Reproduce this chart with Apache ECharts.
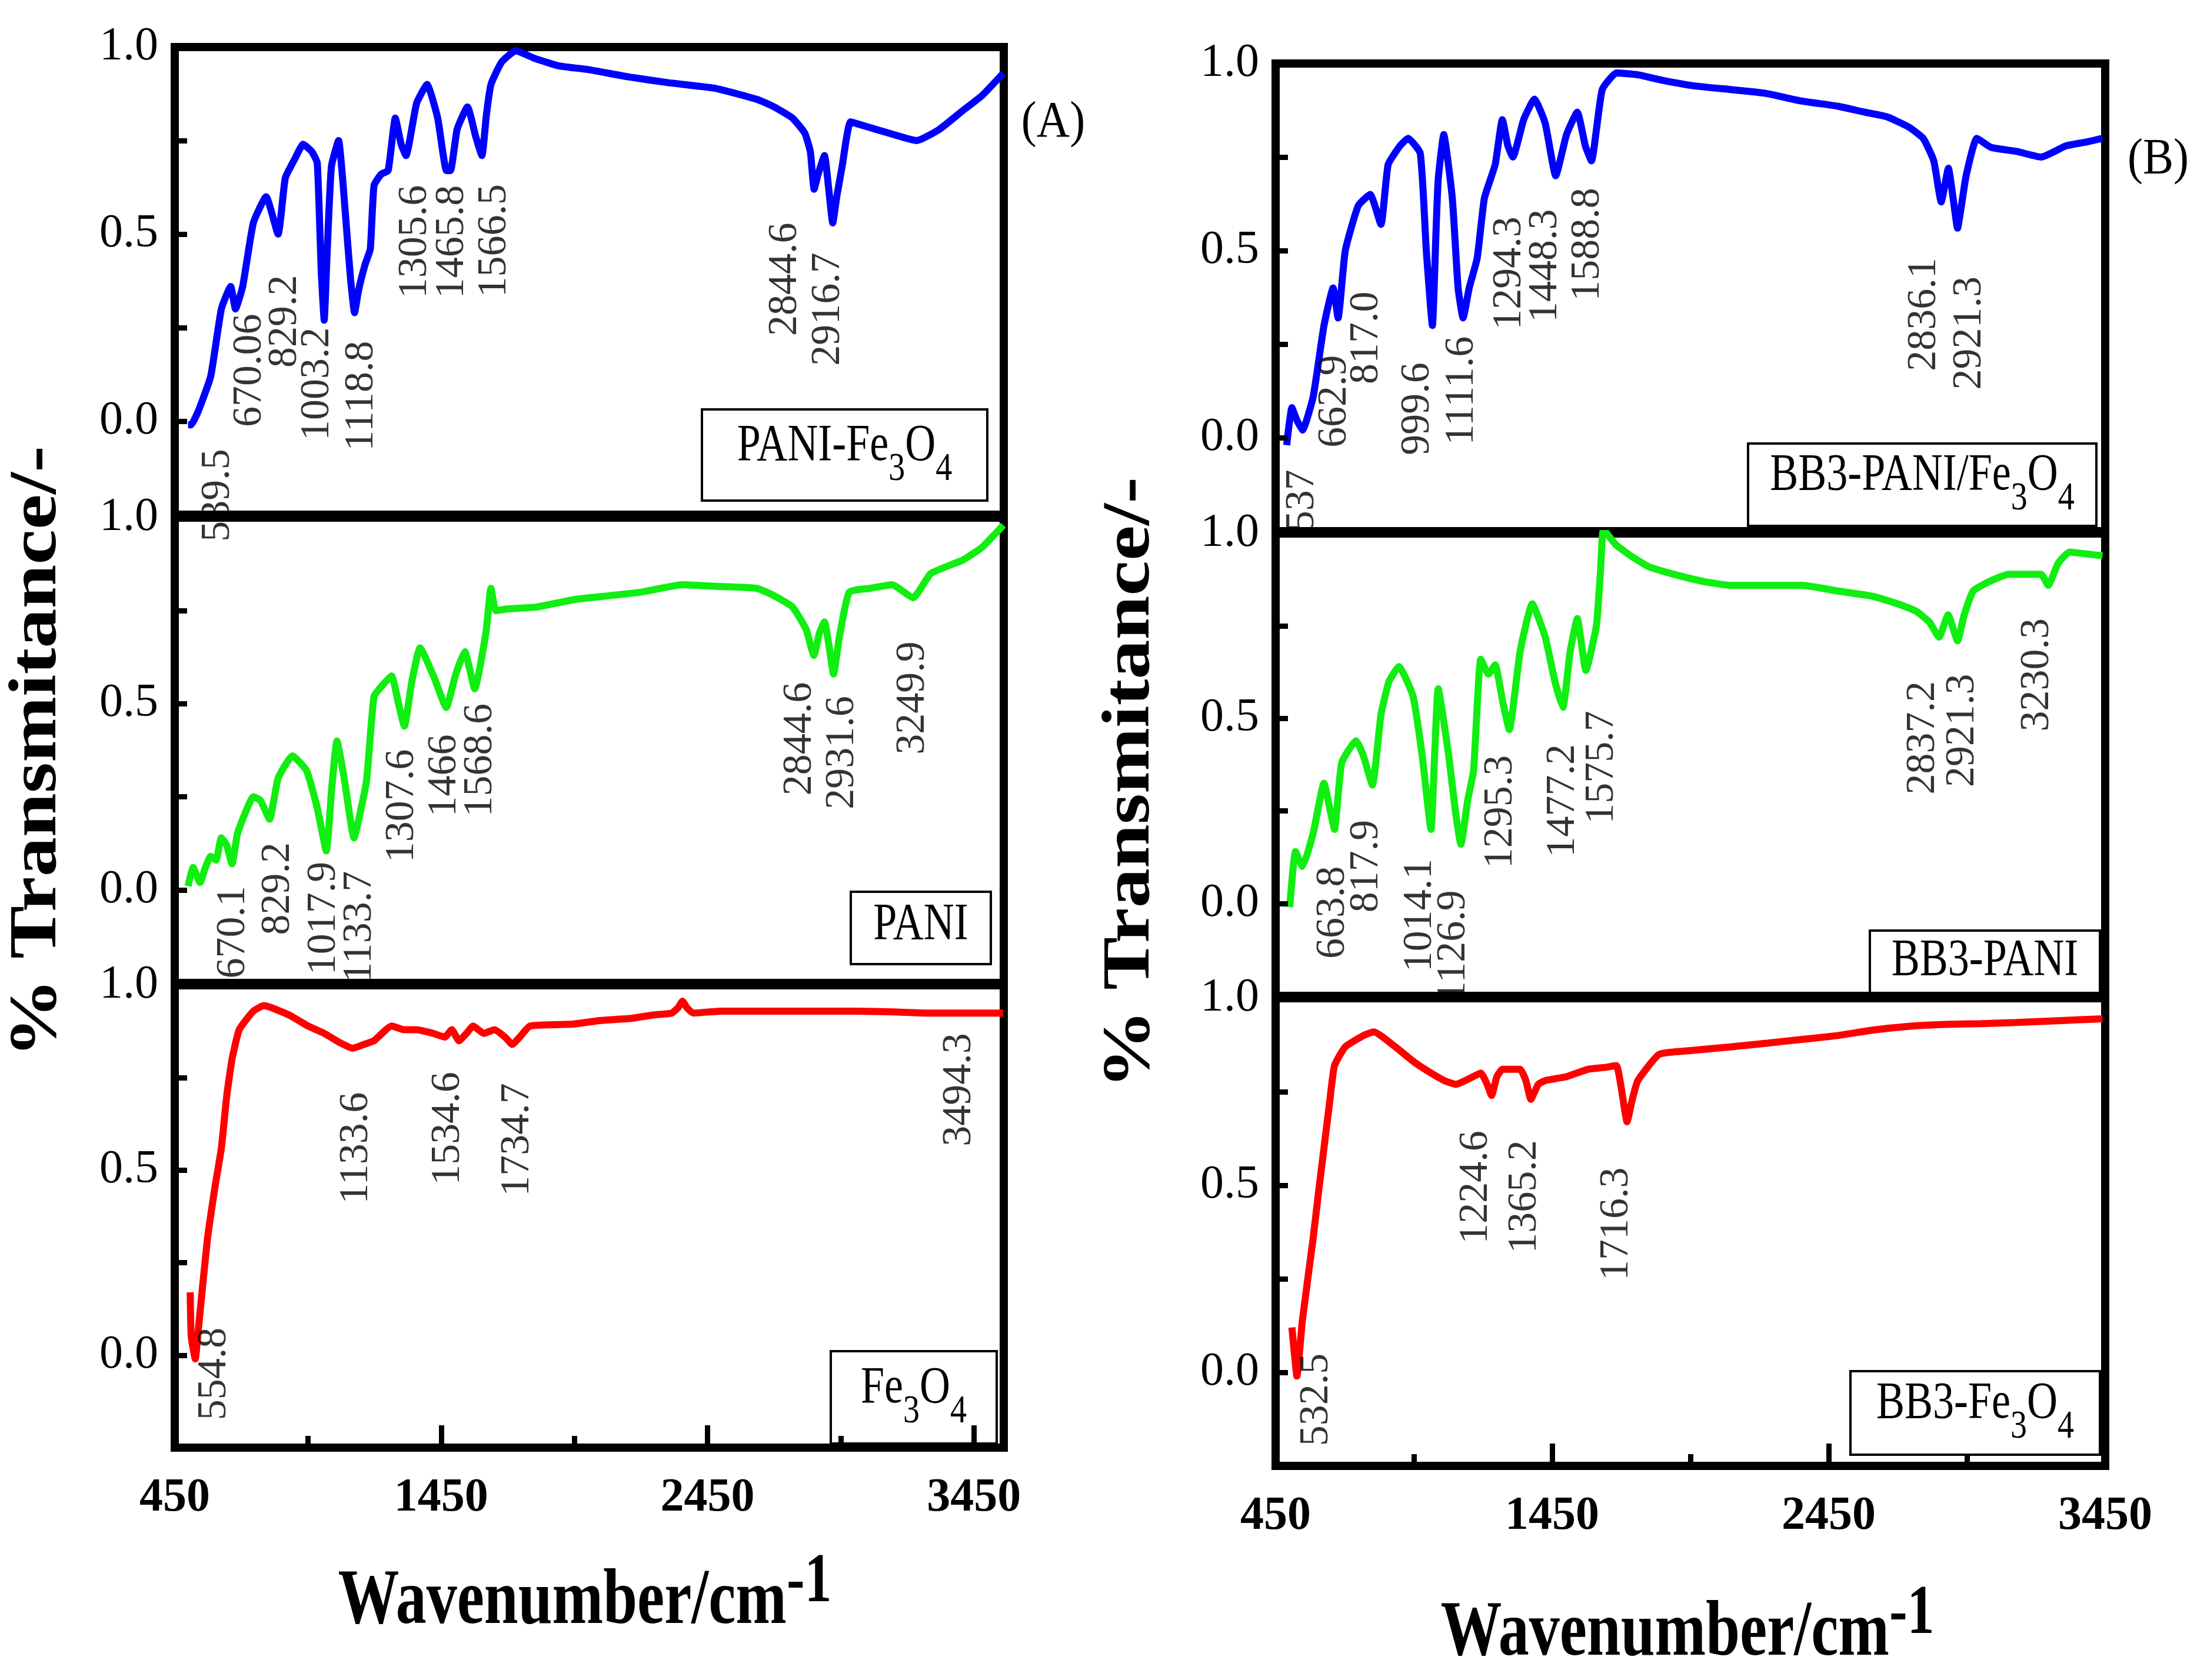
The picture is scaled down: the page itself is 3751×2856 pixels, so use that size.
<!DOCTYPE html>
<html>
<head>
<meta charset="utf-8">
<title>FTIR spectra</title>
<script src="https://cdn.jsdelivr.net/npm/echarts@6/dist/echarts.min.js"></script>
<style>
  html, body { margin: 0; padding: 0; background: #fff; }
  #main { width: 3751px; height: 2856px; }
</style>
</head>
<body>
<div id="main"></div>
<script>
// ---------- data: [wavenumber, transmittance] ----------
var pfSpec = [[500,-0.01],[511,-0.01],[540,0.03],[585,0.12],[625,0.30],[660,0.36],[678,0.30],[705,0.36],[745,0.53],[793,0.60],[838,0.50],[865,0.65],[900,0.70],[932,0.74],[965,0.72],[985,0.69],[1000,0.40],[1011,0.27],[1022,0.45],[1038,0.68],[1065,0.75],[1080,0.65],[1091,0.55],[1110,0.38],[1125,0.29],[1140,0.35],[1165,0.42],[1184,0.46],[1198,0.63],[1225,0.66],[1251,0.67],[1278,0.81],[1300,0.74],[1318,0.71],[1358,0.85],[1397,0.90],[1437,0.81],[1470,0.67],[1485,0.67],[1510,0.78],[1549,0.84],[1580,0.76],[1603,0.71],[1620,0.82],[1637,0.90],[1677,0.96],[1730,0.99],[1800,0.97],[1890,0.95],[2000,0.94],[2156,0.92],[2300,0.905],[2476,0.89],[2636,0.86],[2700,0.84],[2769,0.81],[2815,0.77],[2836,0.72],[2850,0.62],[2865,0.66],[2889,0.71],[2905,0.62],[2920,0.53],[2935,0.60],[2955,0.68],[2987,0.80],[3035,0.79],[3130,0.77],[3235,0.75],[3320,0.78],[3408,0.83],[3480,0.87],[3560,0.93]];
var paniSpec = [[500,0.01],[519,0.06],[545,0.02],[565,0.06],[585,0.09],[605,0.08],[625,0.14],[645,0.12],[665,0.07],[685,0.15],[705,0.19],[745,0.25],[772,0.24],[806,0.19],[838,0.30],[892,0.36],[945,0.32],[985,0.22],[1019,0.105],[1040,0.28],[1059,0.40],[1086,0.30],[1123,0.14],[1150,0.22],[1171,0.30],[1198,0.52],[1230,0.55],[1264,0.575],[1290,0.50],[1312,0.44],[1340,0.56],[1371,0.65],[1424,0.57],[1469,0.49],[1505,0.58],[1539,0.64],[1576,0.54],[1618,0.69],[1637,0.81],[1656,0.75],[1700,0.755],[1810,0.76],[1950,0.78],[2077,0.79],[2200,0.80],[2356,0.82],[2500,0.815],[2636,0.81],[2700,0.79],[2769,0.76],[2820,0.70],[2849,0.63],[2870,0.69],[2889,0.72],[2905,0.66],[2923,0.58],[2945,0.68],[2982,0.80],[3060,0.81],[3142,0.82],[3222,0.785],[3288,0.85],[3408,0.886],[3480,0.92],[3541,0.965],[3560,0.98]];
var feSpec = [[508,0.17],[512,0.05],[527,-0.01],[540,0.08],[572,0.31],[600,0.45],[625,0.56],[645,0.70],[665,0.80],[692,0.88],[745,0.93],[785,0.945],[878,0.92],[950,0.89],[1011,0.87],[1070,0.845],[1118,0.83],[1160,0.84],[1198,0.85],[1264,0.89],[1310,0.88],[1358,0.88],[1420,0.87],[1464,0.86],[1490,0.88],[1517,0.85],[1545,0.87],[1570,0.89],[1610,0.87],[1650,0.88],[1690,0.86],[1717,0.84],[1745,0.86],[1784,0.89],[1943,0.895],[2050,0.905],[2156,0.91],[2250,0.92],[2316,0.925],[2340,0.94],[2356,0.957],[2372,0.94],[2396,0.925],[2500,0.93],[2609,0.93],[2800,0.93],[3009,0.93],[3150,0.928],[3275,0.925],[3400,0.925],[3560,0.925]];
var bbPfSpec = [[490,-0.02],[509,0.08],[525,0.05],[547,0.02],[586,0.11],[625,0.30],[658,0.40],[676,0.32],[702,0.50],[749,0.62],[792,0.65],[831,0.57],[857,0.73],[900,0.78],[929,0.80],[973,0.76],[995,0.50],[1017,0.30],[1030,0.55],[1038,0.69],[1058,0.81],[1089,0.64],[1110,0.40],[1128,0.32],[1150,0.40],[1179,0.48],[1205,0.64],[1244,0.73],[1270,0.85],[1290,0.78],[1308,0.75],[1347,0.85],[1386,0.905],[1425,0.84],[1463,0.70],[1502,0.81],[1541,0.87],[1570,0.78],[1592,0.74],[1631,0.93],[1683,0.975],[1760,0.97],[1850,0.955],[1966,0.94],[2100,0.93],[2224,0.92],[2350,0.90],[2482,0.886],[2580,0.87],[2663,0.857],[2740,0.83],[2792,0.80],[2830,0.74],[2857,0.63],[2883,0.72],[2900,0.64],[2916,0.56],[2930,0.62],[2947,0.70],[2986,0.80],[3037,0.776],[3130,0.765],[3218,0.75],[3308,0.78],[3380,0.79],[3440,0.80]];
var bbPaniSpec = [[501,-0.01],[522,0.14],[547,0.10],[586,0.19],[625,0.325],[645,0.26],[663,0.20],[689,0.38],[741,0.44],[767,0.40],[800,0.32],[831,0.51],[860,0.60],[896,0.64],[947,0.56],[980,0.40],[1012,0.20],[1025,0.40],[1038,0.58],[1076,0.40],[1100,0.25],[1120,0.16],[1145,0.28],[1166,0.36],[1192,0.66],[1220,0.62],[1244,0.645],[1270,0.55],[1295,0.47],[1334,0.68],[1378,0.81],[1425,0.72],[1460,0.60],[1489,0.53],[1515,0.68],[1541,0.77],[1572,0.63],[1610,0.75],[1625,0.90],[1636,1.01],[1680,0.97],[1734,0.94],[1800,0.91],[1889,0.89],[2000,0.87],[2095,0.86],[2250,0.86],[2353,0.86],[2480,0.845],[2611,0.83],[2700,0.81],[2766,0.79],[2815,0.76],[2849,0.72],[2882,0.78],[2916,0.71],[2940,0.78],[2973,0.845],[3030,0.87],[3101,0.89],[3218,0.89],[3244,0.86],[3280,0.92],[3321,0.95],[3380,0.945],[3440,0.94]];
var bbFeSpec = [[509,0.12],[518,0.05],[527,-0.01],[547,0.14],[586,0.36],[605,0.48],[625,0.60],[645,0.72],[663,0.82],[702,0.87],[767,0.90],[805,0.91],[883,0.87],[950,0.83],[1012,0.80],[1060,0.78],[1102,0.77],[1150,0.785],[1192,0.80],[1215,0.77],[1231,0.74],[1250,0.79],[1270,0.81],[1334,0.81],[1355,0.78],[1373,0.73],[1400,0.77],[1425,0.78],[1500,0.79],[1579,0.81],[1640,0.815],[1682,0.82],[1700,0.76],[1721,0.67],[1740,0.73],[1760,0.78],[1837,0.85],[1950,0.86],[2095,0.87],[2230,0.88],[2353,0.89],[2480,0.90],[2611,0.915],[2740,0.925],[2869,0.93],[3000,0.932],[3127,0.935],[3280,0.94],[3440,0.945]];

// peak annotations: [wavenumber, top of text, text]
var pfPeaks = [[612,-0.075,'539.5'],[732,0.286,'670.06'],[865,0.39,'829.2'],[985,0.25,'1003.2'],[1152,0.214,'1118.8'],[1352,0.63,'1305.6'],[1491,0.63,'1465.8'],[1650,0.633,'1566.5'],[2742,0.53,'2844.6'],[2902,0.45,'2916.7']];
var paniPeaks = [[670,0.01,'670.1'],[838,0.127,'829.2'],[1011,0.075,'1017.9'],[1145,0.05,'1133.7'],[1304,0.377,'1307.6'],[1464,0.417,'1466'],[1597,0.50,'1568.6'],[2796,0.557,'2844.6'],[2955,0.52,'2931.6'],[3222,0.667,'3249.9']];
var fePeaks = [[599,0.074,'554.8'],[1131,0.71,'1133.6'],[1477,0.765,'1534.6'],[1736,0.735,'1734.7'],[3395,0.87,'3494.3']];
var bbPfPeaks = [[547,-0.086,'537'],[663,0.22,'662.9'],[780,0.39,'817.0'],[965,0.20,'999.6'],[1123,0.27,'1111.6'],[1295,0.59,'1294.3'],[1425,0.61,'1448.3'],[1579,0.667,'1588.8'],[2797,0.48,'2836.1'],[2960,0.43,'2921.3']];
var bbPaniPeaks = [[658,0.10,'663.8'],[780,0.225,'817.9'],[973,0.12,'1014.1'],[1094,0.035,'1126.9'],[1265,0.40,'1295.3'],[1489,0.43,'1477.2'],[1631,0.52,'1575.7'],[2792,0.60,'2837.2'],[2934,0.62,'2921.3'],[3205,0.77,'3230.3']];
var bbFePeaks = [[599,0.05,'532.5'],[1174,0.645,'1224.6'],[1352,0.62,'1365.2'],[1683,0.547,'1716.3']];

var xTickLabels = [450, 1450, 2450, 3450];
var yTickLabels = [0, 0.5, 1.0];

var chartDom = document.getElementById('main');
var myChart = echarts.init(chartDom, null, { renderer: 'canvas' });
var serif = '"Liberation Serif", "Times New Roman", serif';

// one entry per sub plot
var plots = [
  { grid: { left: 297, top: 80, width: 1409, height: 795 }, xMax: 3562, spec: pfSpec, peaks: pfPeaks, color: '#0000ff', bottom: false },
  { grid: { left: 297, top: 880, width: 1409, height: 791 }, xMax: 3562, spec: paniSpec, peaks: paniPeaks, color: '#11ee11', bottom: false },
  { grid: { left: 297, top: 1675, width: 1409, height: 786 }, xMax: 3562, spec: feSpec, peaks: fePeaks, color: '#ff0000', bottom: true },
  { grid: { left: 2168, top: 108, width: 1410, height: 795 }, xMax: 3450, spec: bbPfSpec, peaks: bbPfPeaks, color: '#0000ff', bottom: false },
  { grid: { left: 2168, top: 907, width: 1410, height: 786 }, xMax: 3450, spec: bbPaniSpec, peaks: bbPaniPeaks, color: '#11ee11', bottom: false },
  { grid: { left: 2168, top: 1697, width: 1410, height: 795 }, xMax: 3450, spec: bbFeSpec, peaks: bbFePeaks, color: '#ff0000', bottom: true }
];

var grids = [], xAxes = [], yAxes = [], series = [];

plots.forEach(function (p, i) {
  grids.push({
    left: p.grid.left, top: p.grid.top, width: p.grid.width, height: p.grid.height,
    show: true, borderColor: '#000', borderWidth: 14, backgroundColor: 'transparent'
  });
  xAxes.push({
    type: 'value', gridIndex: i, min: 450, max: p.xMax, interval: 1000,
    position: 'bottom', z: 4,
    axisLine: { show: false, onZero: false },
    splitLine: { show: false },
    axisTick: { show: p.bottom, inside: true, length: 38, lineStyle: { color: '#000', width: 9 } },
    minorTick: { show: p.bottom, splitNumber: 2, length: 20, lineStyle: { color: '#000', width: 9 } },
    axisLabel: {
      show: p.bottom, margin: 46, color: '#000', fontSize: 80, fontWeight: 'bold', fontFamily: serif,
      showMinLabel: true, showMaxLabel: true,
      formatter: function (v) {
        var r = Math.round(v);
        return xTickLabels.indexOf(r) >= 0 ? String(r) : '';
      }
    }
  });
  yAxes.push({
    type: 'value', gridIndex: i, min: -0.25, max: 1.0, interval: 0.25,
    position: 'left', z: 4,
    axisLine: { show: false, onZero: false },
    splitLine: { show: false },
    axisTick: { show: true, inside: true, length: 21, lineStyle: { color: '#000', width: 9 } },
    axisLabel: {
      margin: 28, color: '#000', fontSize: 80, fontFamily: serif,
      showMinLabel: true, showMaxLabel: true,
      formatter: function (v) {
        var hit = yTickLabels.some(function (t) { return Math.abs(t - v) < 1e-6; });
        return hit ? v.toFixed(1) : '';
      }
    }
  });
  series.push({
    type: 'line', xAxisIndex: i, yAxisIndex: i,
    data: p.spec, showSymbol: false, symbol: 'none', smooth: 0.15,
    lineStyle: { color: p.color, width: 12 }, z: 3
  });
  // ----- vertical peak labels -----
  series.push({
    type: 'scatter', xAxisIndex: i, yAxisIndex: i, silent: true,
    symbolSize: 1, itemStyle: { color: 'rgba(0,0,0,0)' },
    data: p.peaks.map(function (d) { return { name: d[2], value: [d[0], d[1]] }; }),
    label: {
      show: true, position: 'top', distance: 0, rotate: 90,
      align: 'right', verticalAlign: 'middle',
      formatter: '{b}', color: '#000', fontSize: 70, fontFamily: serif
    },
    z: 5
  });
});

// legend boxes
function box(x, y, w, h, text) {
  return [
    { type: 'rect', z: 100, shape: { x: x, y: y, width: w, height: h }, style: { fill: 'none', stroke: '#000', lineWidth: 4 } },
    {
      type: 'text', z: 101, x: x + w / 2, y: y + h / 2, scaleY: 1.22,
      style: {
        text: text, align: 'center', verticalAlign: 'middle',
        rich: {
          n: { fontSize: 72, fontFamily: serif, fill: '#000', verticalAlign: 'top', lineHeight: 80 },
          s: { fontSize: 56, fontFamily: serif, fill: '#000', verticalAlign: 'top', padding: [40, 0, 0, 0] }
        }
      }
    }
  ];
}

var xTitleRich = {
  m: { fontSize: 104, fontWeight: 'bold', fontFamily: serif, fill: '#000', verticalAlign: 'bottom', lineHeight: 120 },
  p: { fontSize: 92, fontWeight: 'bold', fontFamily: serif, fill: '#000', verticalAlign: 'bottom', padding: [0, 0, 32, 0] }
};

var graphics = [].concat(
  box(1193, 696, 485, 155, '{n|PANI-Fe}{s|3}{n|O}{s|4}'),
  box(1446, 1516, 238, 123, '{n|PANI}'),
  box(1412, 2297, 282, 157, '{n|Fe}{s|3}{n|O}{s|4}'),
  box(2971, 754, 592, 140, '{n|BB3-PANI/Fe}{s|3}{n|O}{s|4}'),
  box(3178, 1582, 391, 113, '{n|BB3-PANI}'),
  box(3145, 2331, 424, 142, '{n|BB3-Fe}{s|3}{n|O}{s|4}'),
  [
    { type: 'text', z: 100, x: 1790, y: 209, scaleY: 1.1, style: { text: '(A)', fontSize: 78, fontFamily: serif, fill: '#000', align: 'center', verticalAlign: 'middle' } },
    { type: 'text', z: 100, x: 3668, y: 272, scaleY: 1.1, style: { text: '(B)', fontSize: 78, fontFamily: serif, fill: '#000', align: 'center', verticalAlign: 'middle' } },
    { type: 'text', z: 100, x: 65, y: 1278, rotation: Math.PI / 2, scaleX: 1.18, style: { text: '% Transmitance/-', fontSize: 114, fontWeight: 'bold', fontFamily: serif, fill: '#000', align: 'center', verticalAlign: 'middle' } },
    { type: 'text', z: 100, x: 1923, y: 1331, rotation: Math.PI / 2, scaleX: 1.18, style: { text: '% Transmitance/-', fontSize: 114, fontWeight: 'bold', fontFamily: serif, fill: '#000', align: 'center', verticalAlign: 'middle' } },
    { type: 'text', z: 100, x: 994, y: 2712, scaleY: 1.28, style: { text: '{m|Wavenumber/cm}{p|-1}', rich: xTitleRich, align: 'center', verticalAlign: 'middle' } },
    { type: 'text', z: 100, x: 2868, y: 2766, scaleY: 1.28, style: { text: '{m|Wavenumber/cm}{p|-1}', rich: xTitleRich, align: 'center', verticalAlign: 'middle' } }
  ]
);

var option = {
  backgroundColor: '#fff',
  animation: false,
  grid: grids,
  xAxis: xAxes,
  yAxis: yAxes,
  series: series,
  graphic: graphics
};

option && myChart.setOption(option);
</script>
</body>
</html>
